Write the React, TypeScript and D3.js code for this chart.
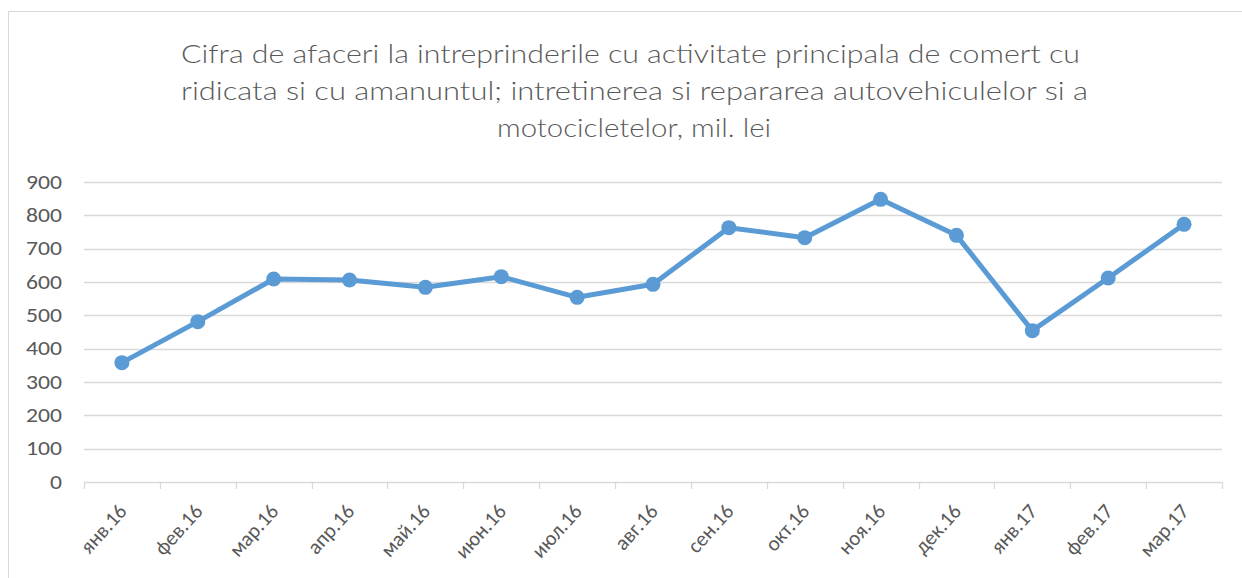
import React from "react";
import * as d3 from "d3";

const titleLines = [
  "Cifra de afaceri la intreprinderile cu activitate principala de comert cu",
  "ridicata si cu amanuntul; intretinerea si repararea autovehiculelor si a",
  "motocicletelor, mil. lei",
];
const categories = [
  "янв.16", "фев.16", "мар.16", "апр.16", "май.16", "июн.16", "июл.16", "авг.16",
  "сен.16", "окт.16", "ноя.16", "дек.16", "янв.17", "фев.17", "мар.17",
];
const values = [358, 481, 609, 606, 584, 616, 554, 593, 763, 733, 848, 740, 454, 612, 773];
const yTicks = [0, 100, 200, 300, 400, 500, 600, 700, 800, 900];

const W = 1242;
const H = 578;
const plot = { left: 84, right: 1222, top: 182, bottom: 482 };
const font = "Carlito, Calibri, Lato, 'Open Sans', sans-serif";
const titleFont = "Lato, Carlito, Calibri, 'Open Sans', sans-serif";
const textColor = "#595959";
const gridColor = "#d9d9d9";
const lineColor = "#5b9bd5";

export default function App() {
  const x = d3.scaleBand<string>().domain(categories).range([plot.left, plot.right]).padding(0);
  const y = d3.scaleLinear().domain([0, 900]).range([plot.bottom, plot.top]);
  const cx = (c: string) => (x(c) as number) + x.bandwidth() / 2;
  const line = d3
    .line<number>()
    .x((_, i) => cx(categories[i]))
    .y((v) => y(v));
  const boundaries = categories.map((c) => x(c) as number).concat([plot.right]);
  const titleX = [181, 181, 497];
  const titleWidths = [899, 907, 274];
  const titleY = [63, 100, 137];

  return (
    <svg
      width={W}
      height={H}
      style={{ position: "absolute", left: 0, top: 0, background: "#fff" }}
    >
      <rect x={0} y={0} width={W} height={H} fill="#fff" />
      <rect x={8.5} y={11.5} width={1270} height={600} fill="none" stroke={gridColor} strokeWidth={1} />
      {titleLines.map((t, i) => (
        <text
          key={i}
          x={titleX[i]}
          y={titleY[i]}
          textAnchor="start"
          fontFamily={titleFont}
          fontWeight={300}
          fontSize={26}
          fill={textColor}
          textLength={titleWidths[i]}
          lengthAdjust="spacingAndGlyphs"
        >
          {t}
        </text>
      ))}
      {yTicks.map((t) => (
        <g key={t}>
          <line
            x1={plot.left}
            x2={plot.right}
            y1={Math.round(y(t)) + 0.5}
            y2={Math.round(y(t)) + 0.5}
            stroke={gridColor}
            strokeWidth={1.3}
          />
          <text
            x={62}
            y={y(t)}
            dy="0.34em"
            textAnchor="end"
            fontFamily={font}
            fontSize={20}
            fill={textColor}
            textLength={String(t).length * 12}
            lengthAdjust="spacingAndGlyphs"
          >
            {t}
          </text>
        </g>
      ))}
      {boundaries.map((b, i) => (
        <line
          key={i}
          x1={Math.round(b) + 0.5}
          x2={Math.round(b) + 0.5}
          y1={plot.bottom}
          y2={plot.bottom + 7}
          stroke={gridColor}
          strokeWidth={1.3}
        />
      ))}
      {categories.map((c) => (
        <text
          key={c}
          transform={`translate(${cx(c) + 6},${plot.bottom + 30}) rotate(-48)`}
          textAnchor="end"
          fontFamily={font}
          fontSize={21}
          fill={textColor}
        >
          {c}
        </text>
      ))}
      <path d={line(values) || ""} fill="none" stroke={lineColor} strokeWidth={5} strokeLinejoin="round" />
      {values.map((v, i) => (
        <circle key={i} cx={cx(categories[i])} cy={y(v)} r={7.5} fill={lineColor} />
      ))}
    </svg>
  );
}
